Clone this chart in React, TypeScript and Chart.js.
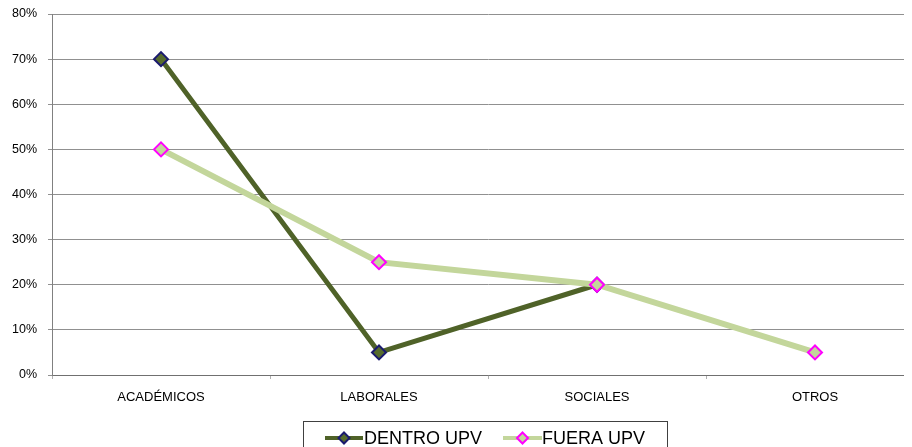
import React, { useEffect, useRef } from "react";
import { Chart, registerables } from "chart.js";

Chart.register(...registerables);

const categories = ["ACADÉMICOS", "LABORALES", "SOCIALES", "OTROS"];
const dentroUPV = [70, 5, 20, null];
const fueraUPV = [50, 25, 20, 5];
const yTicks = [0, 10, 20, 30, 40, 50, 60, 70, 80];
const seriesNames = ["DENTRO UPV", "FUERA UPV"];

const DENTRO_LINE = "#4F6228";
const DENTRO_FILL = "#566B2C";
const DENTRO_BORDER = "#1A1A6E";
const FUERA_LINE = "#C3D69B";
const FUERA_BORDER = "#FF00FF";

function drawDiamond(ctx: CanvasRenderingContext2D, x: number, y: number, r: number, fill: string, stroke: string) {
  ctx.beginPath();
  ctx.moveTo(x, y - r);
  ctx.lineTo(x + r, y);
  ctx.lineTo(x, y + r);
  ctx.lineTo(x - r, y);
  ctx.closePath();
  ctx.fillStyle = fill;
  ctx.fill();
  ctx.lineWidth = 2;
  ctx.strokeStyle = stroke;
  ctx.stroke();
}

const legendPlugin = {
  id: "boxLegend",
  afterDraw(chart: any) {
    const ctx: CanvasRenderingContext2D = chart.ctx;
    ctx.save();
    ctx.strokeStyle = "#404040";
    ctx.lineWidth = 1;
    ctx.strokeRect(295.5, 413.5, 364, 40);
    const cy = 430;
    const items = [
      { x0: 317, x1: 355, text: seriesNames[0], tx: 356, line: DENTRO_LINE, fill: DENTRO_FILL, border: DENTRO_BORDER },
      { x0: 495, x1: 534, text: seriesNames[1], tx: 534, line: FUERA_LINE, fill: FUERA_LINE, border: FUERA_BORDER },
    ];
    for (const it of items) {
      ctx.beginPath();
      ctx.moveTo(it.x0, cy);
      ctx.lineTo(it.x1, cy);
      ctx.lineWidth = 4;
      ctx.strokeStyle = it.line;
      ctx.stroke();
      drawDiamond(ctx, (it.x0 + it.x1) / 2, cy, 5.5, it.fill, it.border);
      ctx.fillStyle = "#000";
      ctx.font = "18px 'Liberation Sans', Arial, sans-serif";
      ctx.textBaseline = "middle";
      ctx.textAlign = "left";
      ctx.fillText(it.text, it.tx, cy + 1);
    }
    ctx.restore();
  },
};

export default function App() {
  const ref = useRef<HTMLCanvasElement | null>(null);
  useEffect(() => {
    if (!ref.current) return;
    const chart = new Chart(ref.current, {
      type: "line",
      data: {
        labels: categories,
        datasets: [
          {
            label: seriesNames[0],
            data: dentroUPV,
            borderColor: DENTRO_LINE,
            backgroundColor: DENTRO_FILL,
            borderWidth: 5,
            pointStyle: "rectRot",
            pointRadius: 7,
            pointBorderWidth: 2,
            pointBorderColor: DENTRO_BORDER,
            pointBackgroundColor: DENTRO_FILL,
            order: 1,
            spanGaps: false,
          },
          {
            label: seriesNames[1],
            data: fueraUPV,
            borderColor: FUERA_LINE,
            backgroundColor: FUERA_LINE,
            borderWidth: 6,
            pointStyle: "rectRot",
            pointRadius: 7,
            pointBorderWidth: 2,
            pointBorderColor: FUERA_BORDER,
            pointBackgroundColor: FUERA_LINE,
            order: 0,
          },
        ],
      },
      options: {
        responsive: false,
        maintainAspectRatio: false,
        animation: false,
        layout: { autoPadding: false, padding: { top: 6, left: 0, right: 0, bottom: 32 } },
        plugins: { legend: { display: false }, tooltip: { enabled: false } },
        scales: {
          x: {
            offset: true,
            grid: { offset: true, drawOnChartArea: false, drawTicks: true, tickLength: 4, color: "#B0B0B0" },
            border: { color: "#707070", width: 1 },
            ticks: {
              color: "#000",
              padding: 11,
              maxRotation: 0,
              font: { family: "'Liberation Sans', Arial, sans-serif", size: 13 },
            },
            afterFit(scale: any) {
              scale.height = 40;
              scale.paddingLeft = 0;
              scale.paddingRight = 0;
              scale.paddingTop = 0;
              scale.paddingBottom = 0;
            },
          },
          y: {
            min: 0,
            max: 80,
            afterBuildTicks(scale: any) {
              scale.ticks = yTicks.map((v) => ({ value: v }));
            },
            grid: { color: "#909090", tickLength: 4, drawTicks: true },
            border: { color: "#808080", width: 1 },
            ticks: {
              color: "#000",
              padding: 11,
              callback: (v: any) => v + "%",
              font: { family: "'Liberation Sans', Arial, sans-serif", size: 12.5 },
            },
            afterFit(scale: any) {
              scale.width = 44;
              scale.paddingLeft = 0;
              scale.paddingRight = 0;
              scale.paddingTop = 0;
              scale.paddingBottom = 0;
            },
          },
        },
      },
      plugins: [legendPlugin],
    });
    return () => chart.destroy();
  }, []);
  return (
    <div style={{ width: 904, height: 439, overflow: "hidden", position: "relative" }}>
      <div style={{ width: 916, height: 439, position: "absolute", left: 0, top: 0 }}>
        <canvas ref={ref} width={916} height={439} style={{ display: "block", width: 916, height: 439 }} />
      </div>
    </div>
  );
}
